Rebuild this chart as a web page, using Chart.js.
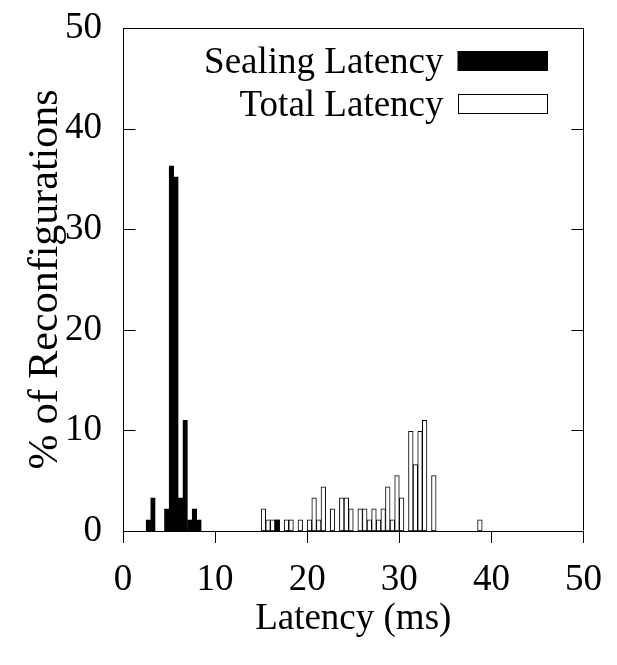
<!DOCTYPE html>
<html>
<head>
<meta charset="utf-8">
<script src="https://cdn.jsdelivr.net/npm/chart.js@4"></script>
<style>
  html, body { margin: 0; padding: 0; background: #fff; }
</style>
</head>
<body>
<canvas id="latencyChart" width="617" height="665"></canvas>
<script>
// Гистограмма: корзины по 0.5 мс, подписаны левой границей (мс)
const BIN_WIDTH = 0.5;

const sealingBins = [2.5, 3.0, 4.5, 5.0, 5.5, 6.0, 6.5, 7.0, 7.5, 8.0, 16.5];
const sealingPct  = [1.1, 3.3, 2.2, 36.3, 35.2, 3.3, 11.0, 1.1, 2.2, 1.1, 1.1];

const totalBins = [15, 15.5, 16, 16.5, 17.5, 18, 19, 20, 20.5, 21, 21.5, 22.5,
                   23.5, 24, 24.5, 25.5, 26, 26.5, 27, 27.5, 28, 28.5, 29, 29.5,
                   30, 31, 31.5, 32, 32.5, 33.5, 38.5];
const totalPct  = [2.2, 1.1, 1.1, 1.1, 1.1, 1.1, 1.1, 1.1, 3.3, 1.1, 4.4, 2.2,
                   3.3, 3.3, 2.2, 2.2, 2.2, 1.1, 2.2, 1.1, 2.2, 4.4, 1.1, 5.5,
                   3.3, 9.9, 6.6, 9.9, 11.0, 5.5, 1.1];

const xTickValues = [0, 10, 20, 30, 40, 50];
const yTickValues = [0, 10, 20, 30, 40, 50];

const FONT = 'Liberation Serif';

// точки для столбцов: центр корзины
function toPoints(bins, values) {
    return bins.map((b, i) => ({ x: b + BIN_WIDTH / 2, y: values[i] }));
}

// рамка графика и засечки оси Y внутрь (слева и справа)
const framePlugin = {
    id: 'frame',
    afterDatasetsDraw(chart) {
        const { ctx, chartArea: a, scales } = chart;
        const L = Math.round(a.left) + 0.5, R = Math.round(a.right) - 0.5;
        const T = Math.round(a.top) + 0.5, B = Math.round(a.bottom) - 0.5;
        ctx.save();
        ctx.strokeStyle = '#000';
        ctx.lineWidth = 1;
        ctx.beginPath();
        ctx.moveTo(L, B); ctx.lineTo(L, T); ctx.lineTo(R, T); ctx.lineTo(R, B);
        scales.y.ticks.forEach(t => {
            const y = Math.round(scales.y.getPixelForValue(t.value)) + 0.5;
            if (y <= T + 1 || y >= B - 1) return;
            ctx.moveTo(L, y); ctx.lineTo(L + 12, y);
            ctx.moveTo(R, y); ctx.lineTo(R - 12, y);
        });
        ctx.stroke();
        ctx.restore();
    }
};

// легенда внутри области графика: текст слева, образец справа
const legendPlugin = {
    id: 'insideLegend',
    afterDraw(chart) {
        const { ctx, chartArea: a } = chart;
        const boxW = 90, boxH = 20;
        ctx.save();
        ctx.font = '37px "' + FONT + '"';
        ctx.textAlign = 'right';
        ctx.textBaseline = 'middle';
        chart.data.datasets.forEach((ds, i) => {
            const cy = a.top + 33 + i * 43;
            const boxRight = a.right - 36;
            const boxLeft = boxRight - boxW;
            ctx.fillStyle = ds.backgroundColor;
            ctx.fillRect(boxLeft, cy - boxH / 2, boxW, boxH);
            ctx.strokeStyle = ds.borderColor;
            ctx.lineWidth = 1;
            ctx.strokeRect(Math.round(boxLeft) + 0.5, Math.round(cy - boxH / 2) + 0.5, boxW - 1, boxH - 1);
            ctx.fillStyle = '#000';
            ctx.fillText(ds.label, boxLeft - 14, cy + 2);
        });
        ctx.restore();
    }
};

Chart.defaults.font.family = FONT;
Chart.defaults.font.size = 37;
Chart.defaults.color = '#000';

const ctx = document.getElementById('latencyChart').getContext('2d');
new Chart(ctx, {
    type: 'bar',
    data: {
        datasets: [
            {
                label: 'Sealing Latency',
                data: toPoints(sealingBins, sealingPct),
                backgroundColor: '#000',
                borderColor: '#000',
                borderWidth: 1,
                borderSkipped: false
            },
            {
                label: 'Total Latency',
                data: toPoints(totalBins, totalPct),
                backgroundColor: '#fff',
                borderColor: '#000',
                borderWidth: 1,
                borderSkipped: false
            }
        ]
    },
    options: {
        responsive: false,
        animation: false,
        devicePixelRatio: 1,
        layout: { padding: { left: 0, top: 28, right: 31, bottom: 0 } },
        datasets: {
            bar: { grouped: false, barPercentage: 1, categoryPercentage: 1 }
        },
        plugins: {
            legend: { display: false },
            tooltip: { enabled: false }
        },
        scales: {
            x: {
                type: 'linear',
                min: 0,
                max: 50,
                offset: false,
                afterBuildTicks: s => { s.ticks = xTickValues.map(v => ({ value: v })); },
                afterFit: s => { s.height = 134; },
                grid: {
                    display: true,
                    offset: false,
                    drawOnChartArea: false,
                    drawTicks: true,
                    tickLength: 12,
                    color: '#000',
                    lineWidth: 1
                },
                border: { display: true, color: '#000', width: 1 },
                ticks: { padding: 15, maxRotation: 0, font: { size: 37 } },
                title: {
                    display: true,
                    text: 'Latency (ms)',
                    font: { size: 37 },
                    padding: { top: 0, bottom: 24 }
                }
            },
            y: {
                min: 0,
                max: 50,
                afterBuildTicks: s => { s.ticks = yTickValues.map(v => ({ value: v })); },
                afterFit: s => { s.width = 123; s.paddingTop = 0; s.paddingBottom = 0; },
                grid: { display: false },
                border: { display: true, color: '#000', width: 1 },
                ticks: { padding: 13, font: { size: 37, lineHeight: 1 } },
                title: {
                    display: true,
                    text: '% of Reconfigurations',
                    font: { size: 42 },
                    padding: { top: 21, bottom: 0 }
                }
            }
        }
    },
    plugins: [framePlugin, legendPlugin]
});
</script>
</body>
</html>
